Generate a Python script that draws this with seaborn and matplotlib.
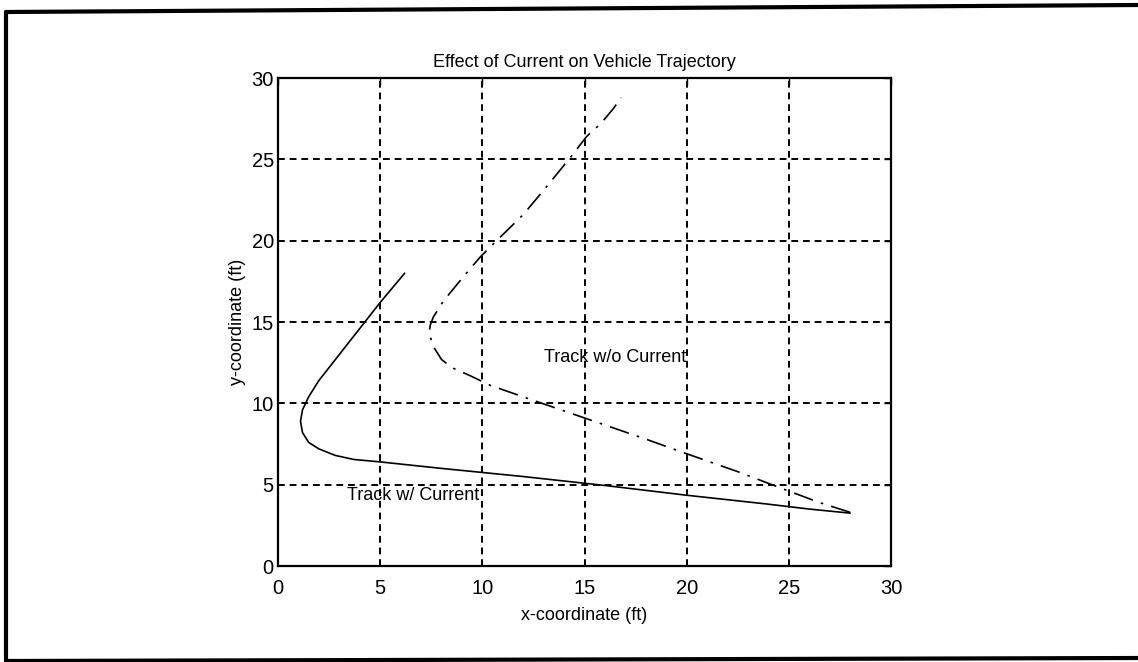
import seaborn as sns
import pandas as pd
import matplotlib.pyplot as plt
from matplotlib.lines import Line2D

# Track with current (solid)
x_with = [6.2, 5.0, 4.0, 3.0, 2.0, 1.5, 1.2, 1.1, 1.2, 1.5, 2.0, 2.8, 3.7, 5.0,
          8.0, 12.0, 16.0, 20.0, 24.0, 26.0, 28.0]
y_with = [18.0, 16.2, 14.6, 13.0, 11.4, 10.4, 9.6, 8.9, 8.2, 7.6, 7.2, 6.8, 6.55, 6.4,
          6.0, 5.5, 4.95, 4.35, 3.8, 3.5, 3.25]

# Track without current (dash-dot)
x_without = [28.0, 26.5, 24.8, 22.5, 20.0, 18.0, 15.0, 12.0, 10.4, 9.4, 8.5, 8.0,
             7.6, 7.4, 7.45, 7.6, 8.1, 9.15, 9.9, 10.7, 12.0, 13.0, 14.3, 15.1,
             15.8, 16.4, 16.8]
y_without = [3.3, 3.9, 4.7, 5.8, 6.9, 7.8, 9.1, 10.4, 11.1, 11.7, 12.2, 12.7,
             13.5, 14.3, 14.8, 15.3, 16.3, 17.9, 19.0, 20.0, 21.6, 23.1, 25.1, 26.4,
             27.2, 28.1, 28.8]

ticks = [0, 5, 10, 15, 20, 25, 30]

df_with = pd.DataFrame({"x": x_with, "y": y_with})
df_without = pd.DataFrame({"x": x_without, "y": y_without})

sns.set_theme(style="white")
plt.rcParams["font.family"] = ["Liberation Sans", "DejaVu Sans"]
plt.rcParams["text.color"] = "black"
plt.rcParams["axes.labelcolor"] = "black"

W, H = 1138, 662
fig = plt.figure(figsize=(W / 100, H / 100), dpi=100)
ax = fig.add_axes([278 / W, 1 - 566 / H, 613 / W, 488 / H])

sns.lineplot(data=df_with, x="x", y="y", sort=False, estimator=None,
             color="black", linewidth=1.2, ax=ax)
sns.lineplot(data=df_without, x="x", y="y", sort=False, estimator=None,
             color="black", linewidth=1.2, linestyle=(0, (12, 5, 1.5, 5)), ax=ax)

ax.set_xlim(0, 30)
ax.set_ylim(0, 30)
ax.set_xticks(ticks)
ax.set_yticks(ticks)
ax.grid(True, color="black", linestyle=(0, (3.5, 2.5)), linewidth=1.4)
ax.set_axisbelow(True)
for s in ax.spines.values():
    s.set_color("black")
    s.set_linewidth(1.6)
ax.tick_params(axis="both", labelsize=14.5, colors="black", direction="in",
               length=5, width=1, top=True, right=True)
ax.tick_params(axis="x", pad=9)
ax.tick_params(axis="y", pad=3)

ax.set_title("Effect of Current on Vehicle Trajectory", fontsize=13, pad=8,
             color="black")
ax.set_xlabel("x-coordinate (ft)", fontsize=13, labelpad=7)
ax.set_ylabel("y-coordinate (ft)", fontsize=13, labelpad=4)

ax.text(13.0, 12.8, "Track w/o Current", fontsize=13, va="center", color="black")
ax.text(3.4, 4.35, "Track w/ Current", fontsize=13, va="center", color="black")


# scanned page frame: left, top and bottom edges
def px(x, y):
    return x / W, 1 - y / H


for (x0, y0), (x1, y1) in [((6, 12), (1138, 5)), ((6, 661), (1138, 658)),
                           ((6, 12), (6, 661))]:
    (a, b), (c, d) = px(x0, y0), px(x1, y1)
    fig.add_artist(Line2D([a, c], [b, d], transform=fig.transFigure,
                          color="black", linewidth=3))

fig.savefig("out.png", dpi=100)
